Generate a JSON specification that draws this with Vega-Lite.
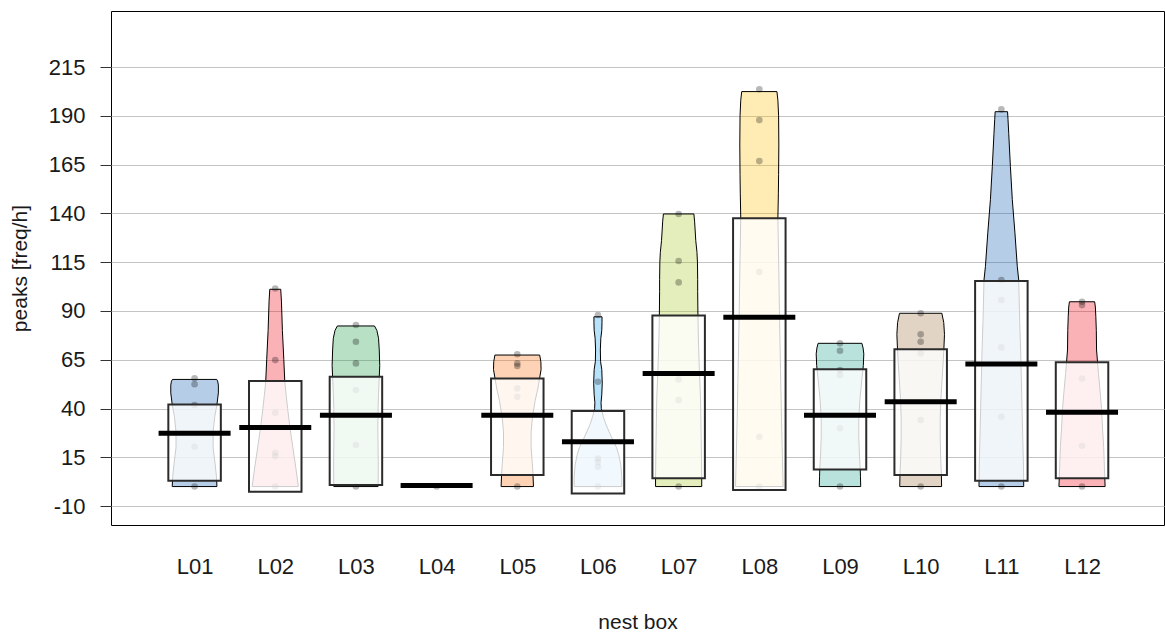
{
  "$schema": "https://vega.github.io/schema/vega-lite/v6.json",
  "width": 1053,
  "height": 514,
  "autosize": {"type": "none"},
  "padding": {"left": 111, "top": 11, "right": 1, "bottom": 109},
  "background": "white",
  "datasets": {
    "beans": [
      {"box":"L01","idx":1,"v":0,"d":0.94},{"box":"L01","idx":1,"v":5,"d":0.92},{"box":"L01","idx":1,"v":12,"d":0.86},{"box":"L01","idx":1,"v":20,"d":0.78},{"box":"L01","idx":1,"v":28,"d":0.78},{"box":"L01","idx":1,"v":36,"d":0.85},{"box":"L01","idx":1,"v":42,"d":0.94},{"box":"L01","idx":1,"v":48,"d":1.0},{"box":"L01","idx":1,"v":52,"d":1.0},{"box":"L01","idx":1,"v":54,"d":0.97},{"box":"L01","idx":1,"v":54.9,"d":0.93},
      {"box":"L02","idx":2,"v":0,"d":0.97},{"box":"L02","idx":2,"v":10,"d":0.86},{"box":"L02","idx":2,"v":20,"d":0.74},{"box":"L02","idx":2,"v":30,"d":0.62},{"box":"L02","idx":2,"v":40,"d":0.52},{"box":"L02","idx":2,"v":50,"d":0.43},{"box":"L02","idx":2,"v":54,"d":0.4},{"box":"L02","idx":2,"v":65,"d":0.36},{"box":"L02","idx":2,"v":80,"d":0.3},{"box":"L02","idx":2,"v":95,"d":0.26},{"box":"L02","idx":2,"v":101.1,"d":0.23},
      {"box":"L03","idx":3,"v":0,"d":0.93},{"box":"L03","idx":3,"v":10,"d":0.94},{"box":"L03","idx":3,"v":20,"d":0.93},{"box":"L03","idx":3,"v":30,"d":0.92},{"box":"L03","idx":3,"v":40,"d":0.93},{"box":"L03","idx":3,"v":48,"d":0.95},{"box":"L03","idx":3,"v":56,"d":0.98},{"box":"L03","idx":3,"v":62,"d":1.0},{"box":"L03","idx":3,"v":70,"d":0.98},{"box":"L03","idx":3,"v":76,"d":0.95},{"box":"L03","idx":3,"v":80,"d":0.88},{"box":"L03","idx":3,"v":82.3,"d":0.78},
      {"box":"L05","idx":5,"v":0,"d":0.68},{"box":"L05","idx":5,"v":6,"d":0.66},{"box":"L05","idx":5,"v":12,"d":0.63},{"box":"L05","idx":5,"v":20,"d":0.58},{"box":"L05","idx":5,"v":28,"d":0.58},{"box":"L05","idx":5,"v":36,"d":0.64},{"box":"L05","idx":5,"v":44,"d":0.75},{"box":"L05","idx":5,"v":50,"d":0.86},{"box":"L05","idx":5,"v":55,"d":0.93},{"box":"L05","idx":5,"v":60,"d":1.0},{"box":"L05","idx":5,"v":64,"d":0.99},{"box":"L05","idx":5,"v":67.4,"d":0.94},
      {"box":"L06","idx":6,"v":0,"d":1.0},{"box":"L06","idx":6,"v":5,"d":1.0},{"box":"L06","idx":6,"v":11,"d":0.96},{"box":"L06","idx":6,"v":16,"d":0.88},{"box":"L06","idx":6,"v":20,"d":0.78},{"box":"L06","idx":6,"v":24,"d":0.62},{"box":"L06","idx":6,"v":28,"d":0.47},{"box":"L06","idx":6,"v":32,"d":0.33},{"box":"L06","idx":6,"v":36,"d":0.22},{"box":"L06","idx":6,"v":40,"d":0.14},{"box":"L06","idx":6,"v":43,"d":0.13},{"box":"L06","idx":6,"v":47,"d":0.16},{"box":"L06","idx":6,"v":53,"d":0.18},{"box":"L06","idx":6,"v":60,"d":0.16},{"box":"L06","idx":6,"v":64,"d":0.11},{"box":"L06","idx":6,"v":70,"d":0.1},{"box":"L06","idx":6,"v":76,"d":0.12},{"box":"L06","idx":6,"v":80,"d":0.16},{"box":"L06","idx":6,"v":84,"d":0.17},{"box":"L06","idx":6,"v":87,"d":0.17},
      {"box":"L07","idx":7,"v":0,"d":0.97},{"box":"L07","idx":7,"v":4,"d":0.97},{"box":"L07","idx":7,"v":15,"d":0.96},{"box":"L07","idx":7,"v":30,"d":0.94},{"box":"L07","idx":7,"v":45,"d":0.92},{"box":"L07","idx":7,"v":60,"d":0.87},{"box":"L07","idx":7,"v":75,"d":0.83},{"box":"L07","idx":7,"v":88,"d":0.81},{"box":"L07","idx":7,"v":100,"d":0.8},{"box":"L07","idx":7,"v":106,"d":0.8},{"box":"L07","idx":7,"v":115,"d":0.79},{"box":"L07","idx":7,"v":120,"d":0.77},{"box":"L07","idx":7,"v":126,"d":0.72},{"box":"L07","idx":7,"v":132,"d":0.69},{"box":"L07","idx":7,"v":136,"d":0.67},{"box":"L07","idx":7,"v":139.7,"d":0.64},
      {"box":"L08","idx":8,"v":0,"d":1.0},{"box":"L08","idx":8,"v":15,"d":0.97},{"box":"L08","idx":8,"v":35,"d":0.93},{"box":"L08","idx":8,"v":60,"d":0.89},{"box":"L08","idx":8,"v":85,"d":0.85},{"box":"L08","idx":8,"v":110,"d":0.82},{"box":"L08","idx":8,"v":137.5,"d":0.78},{"box":"L08","idx":8,"v":150,"d":0.8},{"box":"L08","idx":8,"v":160,"d":0.81},{"box":"L08","idx":8,"v":175,"d":0.82},{"box":"L08","idx":8,"v":190,"d":0.81},{"box":"L08","idx":8,"v":198,"d":0.78},{"box":"L08","idx":8,"v":202.4,"d":0.74},
      {"box":"L09","idx":9,"v":0,"d":0.87},{"box":"L09","idx":9,"v":5,"d":0.86},{"box":"L09","idx":9,"v":9,"d":0.85},{"box":"L09","idx":9,"v":15,"d":0.82},{"box":"L09","idx":9,"v":25,"d":0.79},{"box":"L09","idx":9,"v":35,"d":0.79},{"box":"L09","idx":9,"v":45,"d":0.84},{"box":"L09","idx":9,"v":55,"d":0.92},{"box":"L09","idx":9,"v":62,"d":0.98},{"box":"L09","idx":9,"v":68,"d":1.0},{"box":"L09","idx":9,"v":71,"d":0.97},{"box":"L09","idx":9,"v":73.4,"d":0.92},
      {"box":"L10","idx":10,"v":0,"d":0.88},{"box":"L10","idx":10,"v":6,"d":0.87},{"box":"L10","idx":10,"v":15,"d":0.84},{"box":"L10","idx":10,"v":25,"d":0.82},{"box":"L10","idx":10,"v":35,"d":0.82},{"box":"L10","idx":10,"v":45,"d":0.85},{"box":"L10","idx":10,"v":55,"d":0.9},{"box":"L10","idx":10,"v":65,"d":0.95},{"box":"L10","idx":10,"v":72,"d":0.98},{"box":"L10","idx":10,"v":78,"d":1.0},{"box":"L10","idx":10,"v":84,"d":0.97},{"box":"L10","idx":10,"v":88.8,"d":0.89},
      {"box":"L11","idx":11,"v":0,"d":0.94},{"box":"L11","idx":11,"v":10,"d":0.93},{"box":"L11","idx":11,"v":25,"d":0.9},{"box":"L11","idx":11,"v":40,"d":0.87},{"box":"L11","idx":11,"v":55,"d":0.84},{"box":"L11","idx":11,"v":70,"d":0.81},{"box":"L11","idx":11,"v":85,"d":0.77},{"box":"L11","idx":11,"v":95,"d":0.75},{"box":"L11","idx":11,"v":105.8,"d":0.73},{"box":"L11","idx":11,"v":112.7,"d":0.67},{"box":"L11","idx":11,"v":130,"d":0.57},{"box":"L11","idx":11,"v":147,"d":0.46},{"box":"L11","idx":11,"v":164,"d":0.38},{"box":"L11","idx":11,"v":181,"d":0.31},{"box":"L11","idx":11,"v":188,"d":0.28},{"box":"L11","idx":11,"v":192.1,"d":0.26},
      {"box":"L12","idx":12,"v":0,"d":0.97},{"box":"L12","idx":12,"v":10,"d":0.94},{"box":"L12","idx":12,"v":20,"d":0.91},{"box":"L12","idx":12,"v":30,"d":0.86},{"box":"L12","idx":12,"v":40,"d":0.82},{"box":"L12","idx":12,"v":50,"d":0.75},{"box":"L12","idx":12,"v":58,"d":0.69},{"box":"L12","idx":12,"v":64,"d":0.65},{"box":"L12","idx":12,"v":70,"d":0.61},{"box":"L12","idx":12,"v":80,"d":0.6},{"box":"L12","idx":12,"v":87,"d":0.58},{"box":"L12","idx":12,"v":92,"d":0.56},{"box":"L12","idx":12,"v":94.7,"d":0.53}
    ],
    "points": [
      {"box":"L01","idx":1,"v":55.5},{"box":"L01","idx":1,"v":52.4},{"box":"L01","idx":1,"v":41.8},{"box":"L01","idx":1,"v":20.4},{"box":"L01","idx":1,"v":0},
      {"box":"L02","idx":2,"v":101.5},{"box":"L02","idx":2,"v":64.8},{"box":"L02","idx":2,"v":37.8},{"box":"L02","idx":2,"v":17.3},{"box":"L02","idx":2,"v":15.6},{"box":"L02","idx":2,"v":0},
      {"box":"L03","idx":3,"v":82.8},{"box":"L03","idx":3,"v":74.2},{"box":"L03","idx":3,"v":63.1},{"box":"L03","idx":3,"v":49.5},{"box":"L03","idx":3,"v":21.3},{"box":"L03","idx":3,"v":0},
      {"box":"L04","idx":4,"v":0},
      {"box":"L05","idx":5,"v":67.8},{"box":"L05","idx":5,"v":63.1},{"box":"L05","idx":5,"v":61.8},{"box":"L05","idx":5,"v":50.3},{"box":"L05","idx":5,"v":46},{"box":"L05","idx":5,"v":0},
      {"box":"L06","idx":6,"v":87.9},{"box":"L06","idx":6,"v":53.7},{"box":"L06","idx":6,"v":14.4},{"box":"L06","idx":6,"v":12.7},{"box":"L06","idx":6,"v":10.1},{"box":"L06","idx":6,"v":0},
      {"box":"L07","idx":7,"v":139.7},{"box":"L07","idx":7,"v":115.6},{"box":"L07","idx":7,"v":104.6},{"box":"L07","idx":7,"v":54.9},{"box":"L07","idx":7,"v":44.3},{"box":"L07","idx":7,"v":0},
      {"box":"L08","idx":8,"v":203.6},{"box":"L08","idx":8,"v":187.8},{"box":"L08","idx":8,"v":166.8},{"box":"L08","idx":8,"v":110},{"box":"L08","idx":8,"v":25.5},{"box":"L08","idx":8,"v":0},
      {"box":"L09","idx":9,"v":73.4},{"box":"L09","idx":9,"v":69.6},{"box":"L09","idx":9,"v":59.7},{"box":"L09","idx":9,"v":57.1},{"box":"L09","idx":9,"v":29.8},{"box":"L09","idx":9,"v":0},
      {"box":"L10","idx":10,"v":88.8},{"box":"L10","idx":10,"v":78},{"box":"L10","idx":10,"v":74.2},{"box":"L10","idx":10,"v":68.3},{"box":"L10","idx":10,"v":34.1},{"box":"L10","idx":10,"v":0},
      {"box":"L11","idx":11,"v":193.3},{"box":"L11","idx":11,"v":105.8},{"box":"L11","idx":11,"v":95.6},{"box":"L11","idx":11,"v":71.3},{"box":"L11","idx":11,"v":35.8},{"box":"L11","idx":11,"v":0},
      {"box":"L12","idx":12,"v":94.7},{"box":"L12","idx":12,"v":93},{"box":"L12","idx":12,"v":55.4},{"box":"L12","idx":12,"v":20.9},{"box":"L12","idx":12,"v":0}
    ],
    "stats": [
      {"box":"L01","idx":1,"lo":3.0,"hi":42.1,"avg":27.3},
      {"box":"L02","idx":2,"lo":-2.7,"hi":54.1,"avg":30.3},
      {"box":"L03","idx":3,"lo":0.8,"hi":56.3,"avg":36.6},
      {"box":"L04","idx":4,"avg":0.5},
      {"box":"L05","idx":5,"lo":5.9,"hi":55.4,"avg":36.6},
      {"box":"L06","idx":6,"lo":-3.5,"hi":38.7,"avg":23.0},
      {"box":"L07","idx":7,"lo":4.2,"hi":87.7,"avg":58.0},
      {"box":"L08","idx":8,"lo":-1.8,"hi":137.5,"avg":86.7},
      {"box":"L09","idx":9,"lo":8.8,"hi":60.1,"avg":36.6},
      {"box":"L10","idx":10,"lo":5.9,"hi":70.3,"avg":43.5},
      {"box":"L11","idx":11,"lo":3.0,"hi":105.3,"avg":62.8},
      {"box":"L12","idx":12,"lo":4.2,"hi":63.7,"avg":38.1}
    ]
  },
  "config": {
    "view": {"stroke": "#000000", "strokeWidth": 1},
    "font": "Liberation Sans",
    "axis": {
      "labelFont": "Liberation Sans",
      "titleFont": "Liberation Sans",
      "labelColor": "#1a1a1a",
      "titleColor": "#1a1a1a",
      "labelFontSize": 22,
      "titleFontSize": 21,
      "titleFontWeight": "normal"
    }
  },
  "layer": [
    {
      "data": {"name": "beans"},
      "transform": [
        {"calculate": "datum.idx - 0.295 * datum.d", "as": "xl"},
        {"calculate": "datum.idx + 0.295 * datum.d", "as": "xr"}
      ],
      "mark": {"type": "area", "orient": "horizontal", "opacity": 1, "fillOpacity": 0.3, "stroke": "#000000", "strokeWidth": 1, "strokeOpacity": 1},
      "encoding": {
        "y": {"field": "v", "type": "quantitative",
          "scale": {"domain": [-19.7, 243.7], "nice": false, "zero": false},
          "axis": {
            "values": [-10, 15, 40, 65, 90, 115, 140, 165, 190, 215],
            "labelExpr": "'' + datum.value",
            "title": "peaks [freq/h]",
            "grid": true, "gridColor": "#c4c4c4", "gridWidth": 1.2,
            "domain": false,
            "tickColor": "#333333", "tickSize": 11, "tickWidth": 1,
            "labelPadding": 15,
            "titlePadding": 18
          }
        },
        "x": {"field": "xl", "type": "quantitative",
          "scale": {"domain": [0.026, 12.954], "nice": false, "zero": false},
          "axis": {
            "values": [1,2,3,4,5,6,7,8,9,10,11,12],
            "labelExpr": "'L' + (datum.value < 10 ? '0' : '') + datum.value",
            "title": "nest box",
            "grid": false, "domain": false, "ticks": false,
            "labelPadding": 31,
            "titlePadding": 34
          }
        },
        "x2": {"field": "xr"},
        "color": {"field": "box", "type": "nominal", "legend": null,
          "scale": {
            "domain": ["L01","L02","L03","L04","L05","L06","L07","L08","L09","L10","L11","L12"],
            "range": ["#0C5BB0","#EE0011","#15983D","#EC579A","#FA6B09","#149BED","#A1C720","#FEC10B","#16A08C","#9A703E","#0C5BB0","#EE0011"]
          }
        },
        "detail": {"field": "box"}
      }
    },
    {
      "data": {"name": "points"},
      "mark": {"type": "circle", "size": 44, "color": "#000000", "opacity": 0.28},
      "encoding": {
        "x": {"field": "idx", "type": "quantitative"},
        "y": {"field": "v", "type": "quantitative"}
      }
    },
    {
      "data": {"name": "stats"},
      "transform": [{"filter": "isValid(datum.lo)"}],
      "mark": {"type": "bar", "size": 52.5, "fill": "#ffffff", "fillOpacity": 0.8, "stroke": "#2b2b2b", "strokeWidth": 2},
      "encoding": {
        "x": {"field": "idx", "type": "quantitative"},
        "y": {"field": "lo", "type": "quantitative"},
        "y2": {"field": "hi"}
      }
    },
    {
      "data": {"name": "stats"},
      "mark": {"type": "tick", "orient": "horizontal", "size": 72, "thickness": 5, "color": "#000000", "opacity": 1},
      "encoding": {
        "x": {"field": "idx", "type": "quantitative"},
        "y": {"field": "avg", "type": "quantitative"}
      }
    }
  ]
}
